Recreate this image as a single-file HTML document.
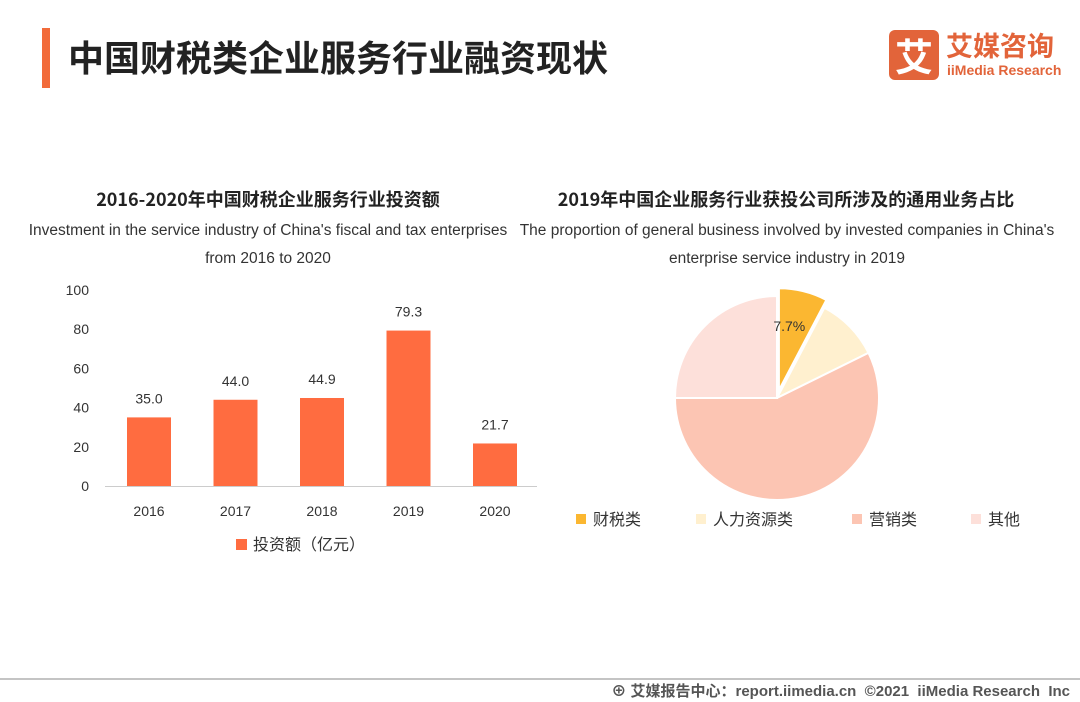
<!DOCTYPE html>
<html><head><meta charset="utf-8"><style>
body{margin:0;width:1080px;height:702px;background:#fff;font-family:"Liberation Sans","Noto Sans CJK SC",sans-serif;position:relative;overflow:hidden}
.abs{position:absolute}
</style></head><body>
<div class="abs" style="left:42px;top:28px;width:8px;height:60px;background:#f26b3a"></div>
<div class="abs" style="left:68px;top:31px;font-size:36px;font-weight:bold;color:#222;font-family:'Noto Sans CJK SC',sans-serif;line-height:50px">中国财税类企业服务行业融资现状</div>
<div class="abs" style="left:889px;top:30px;width:50px;height:50px;background:#e2643a;border-radius:6px;color:#fff;font-size:38px;font-weight:bold;text-align:center;line-height:50px;font-family:'Noto Sans CJK SC',sans-serif">艾</div>
<div class="abs" style="left:946px;top:28px;font-size:27px;font-weight:bold;color:#e2643a;font-family:'Noto Sans CJK SC',sans-serif;line-height:34px">艾媒咨询</div>
<div class="abs" style="left:947px;top:62px;font-size:14px;font-weight:bold;color:#e2643a">iiMedia Research</div>

<div class="abs" style="left:0;width:536px;top:186px;text-align:center;font-size:18px;font-weight:bold;color:#222;font-family:'Noto Sans CJK SC',sans-serif">2016-2020年中国财税企业服务行业投资额</div>
<div class="abs" style="left:-10px;width:556px;top:217px;text-align:center;font-size:15.5px;line-height:28px;color:#333;white-space:nowrap">Investment in the service industry of China's fiscal and tax enterprises<br>from 2016 to 2020</div>
<div class="abs" style="left:518px;width:536px;top:186px;text-align:center;font-size:18px;font-weight:bold;color:#222;font-family:'Noto Sans CJK SC',sans-serif">2019年中国企业服务行业获投公司所涉及的通用业务占比</div>
<div class="abs" style="left:500px;width:574px;top:217px;text-align:center;font-size:15.5px;line-height:28px;color:#333;white-space:nowrap">The proportion of general business involved by invested companies in China's<br>enterprise service industry in 2019</div>

<svg class="abs" style="left:0;top:0" width="1080" height="702">
<g id="bars"></g><g id="pie"></g><g id="pielabels"></g>
<line x1="0" y1="679" x2="1080" y2="679" stroke="#888" stroke-width="1"/>
</svg>
<div class="abs" style="right:10px;top:680px;font-size:15px;font-weight:bold;color:#555;font-family:'Liberation Sans','Noto Sans CJK SC',sans-serif">⊕ 艾媒报告中心：report.iimedia.cn &nbsp;©2021 &nbsp;iiMedia Research &nbsp;Inc</div>

<script>
const years=["2016","2017","2018","2019","2020"];
const invest=[35.0,44.0,44.9,79.3,21.7];
const yTicks=[0,20,40,60,80,100];
const pieLabels=["财税类","人力资源类","营销类","其他"];
const pieValues=[7.7,10.0,57.3,25.0];
const pieColors=["#fbb731","#fff0cf","#fcc5b3","#fde0da"];
const NS="http://www.w3.org/2000/svg";
function mk(t,a,p){const e=document.createElementNS(NS,t);for(const k in a)e.setAttribute(k,a[k]);p.appendChild(e);return e;}
const y=v=>486-v*1.96, x=i=>149+i*86.5;
const bg=document.getElementById('bars');
const ax=mk('line',{x1:105,x2:537,y1:486.5,y2:486.5,stroke:'#ccc'},bg);


yTicks.forEach(t=>{const e=mk('text',{x:89,y:y(t)+5,'text-anchor':'end','font-size':14,fill:'#333'},bg);e.textContent=t;

});
invest.forEach((v,i)=>{
const r=mk('rect',{x:x(i)-22,y:y(v),width:44,height:v*1.96,fill:'#ff6c40'},bg);


const l=mk('text',{x:x(i),y:y(v)-14,'text-anchor':'middle','font-size':14,fill:'#333'},bg);l.textContent=v.toFixed(1);


const c=mk('text',{x:x(i),y:516,'text-anchor':'middle','font-size':14,fill:'#333'},bg);c.textContent=years[i];


});
const lr=mk('rect',{x:236,y:539,width:11,height:11,fill:'#ff6c40'},bg);


const lt=mk('text',{x:253,y:550,'font-size':16,fill:'#333'},bg);lt.textContent='投资额（亿元）';


// pie
const pg=document.getElementById('pie'), plg=document.getElementById('pielabels');
const cx=777,cy=398,R=102,tot=pieValues.reduce((a,b)=>a+b,0);
let a0=0;
pieValues.forEach((v,i)=>{
const a1=a0+v/tot*2*Math.PI;
let ox=0,oy=0;
if(i===0){const m=(a0+a1)/2;ox=8*Math.sin(m);oy=-8*Math.cos(m);}
const p=(a)=>[cx+ox+R*Math.sin(a),cy+oy-R*Math.cos(a)];
const s=p(a0),e=p(a1);
const path=mk('path',{d:`M${cx+ox},${cy+oy}L${s[0]},${s[1]}A${R},${R} 0 ${a1-a0>Math.PI?1:0} 1 ${e[0]},${e[1]}Z`,fill:pieColors[i],stroke:'#fff','stroke-width':2},pg);


if(i===0){const m=(a0+a1)/2;const t=mk('text',{x:cx+ox+60*Math.sin(m)-4,y:cy+oy-60*Math.cos(m)-1,'text-anchor':'middle','font-size':14,fill:'#333'},plg);t.textContent=v+'%';

}
a0=a1;
});
const lx=[576,696,852,971];
pieLabels.forEach((n,i)=>{
const r=mk('rect',{x:lx[i],y:514,width:10,height:10,fill:pieColors[i]},pg);


const t=mk('text',{x:lx[i]+17,y:525,'font-size':16,fill:'#333'},pg);t.textContent=n;


});
</script>
</body></html>
